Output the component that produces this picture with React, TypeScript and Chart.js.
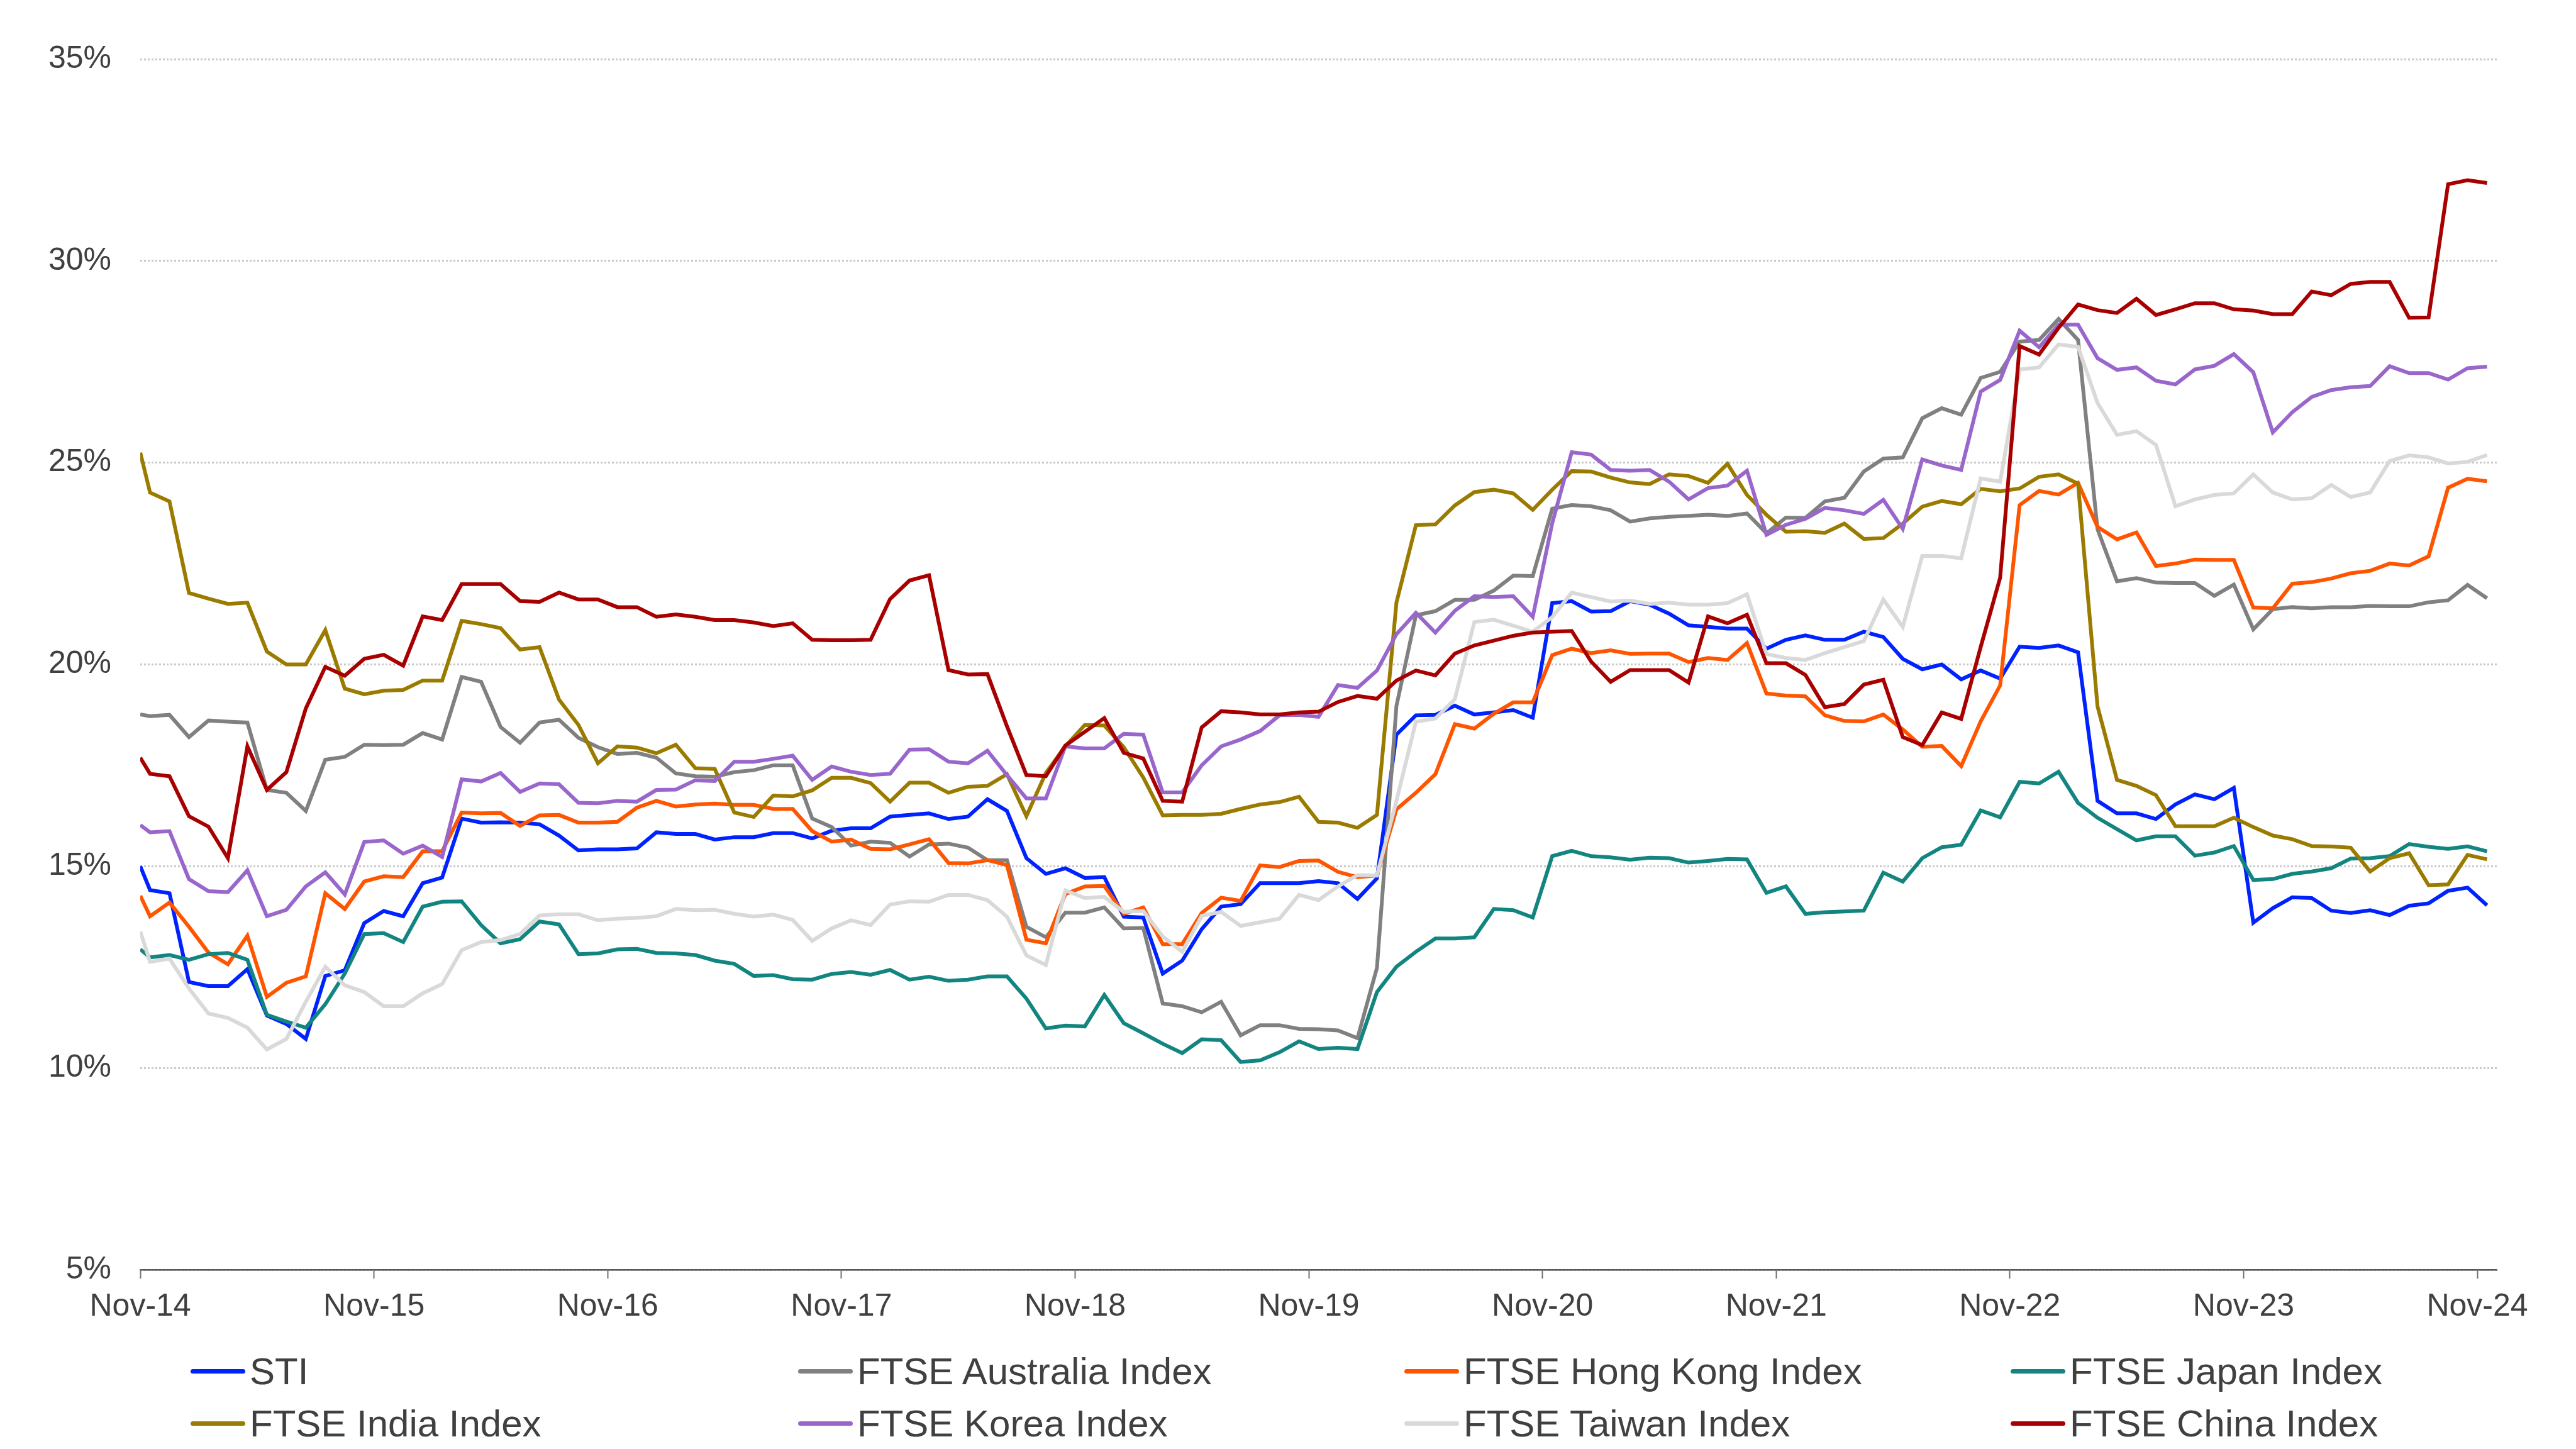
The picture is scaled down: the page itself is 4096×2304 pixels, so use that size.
import { useEffect, useRef } from "react";
import { Chart, registerables } from "chart.js";

Chart.register(...registerables);

const tickMonths = [0, 12, 24, 36, 48, 60, 72, 84, 96, 108, 120];
const tickLabels = [
  "Nov-14", "Nov-15", "Nov-16", "Nov-17", "Nov-18", "Nov-19",
  "Nov-20", "Nov-21", "Nov-22", "Nov-23", "Nov-24",
];

const sti = [
  15.0, 14.41, 14.33, 12.13, 12.03, 12.03, 12.45, 11.3, 11.09, 10.72,
  12.28, 12.42, 13.59, 13.89, 13.76, 14.58, 14.72, 16.18, 16.08, 16.09,
  16.08, 16.04, 15.76, 15.39, 15.42, 15.42, 15.44, 15.84, 15.8, 15.8,
  15.66, 15.72, 15.72, 15.82, 15.82, 15.69, 15.88, 15.94, 15.94, 16.23,
  16.27, 16.31, 16.17, 16.23, 16.66, 16.37, 15.2, 14.81, 14.95, 14.71,
  14.73, 13.75, 13.73, 12.34, 12.66, 13.44, 14.0, 14.06, 14.58, 14.58,
  14.58, 14.63, 14.58, 14.19, 14.7, 18.26, 18.74, 18.75, 18.98, 18.76,
  18.81, 18.87, 18.68, 21.52, 21.57, 21.31, 21.32, 21.57, 21.48, 21.26,
  20.97, 20.93, 20.89, 20.89, 20.39, 20.61, 20.72, 20.61, 20.61, 20.81,
  20.68, 20.14, 19.88, 20.0, 19.63, 19.85, 19.65, 20.44, 20.41, 20.47,
  20.3, 16.62, 16.31, 16.31, 16.17, 16.53, 16.78, 16.66, 16.94, 13.6,
  13.96, 14.23, 14.21, 13.9, 13.84, 13.91, 13.79, 14.02, 14.08, 14.39,
  14.47, 14.03,
];

const australia = [
  18.76, 18.72, 18.75, 18.2, 18.61, 18.58, 18.56, 16.89, 16.82, 16.37,
  17.64, 17.71, 18.01, 18.0, 18.01, 18.3, 18.14, 19.69, 19.57, 18.45,
  18.06, 18.56, 18.63, 18.18, 17.95, 17.78, 17.81, 17.69, 17.3, 17.23,
  17.22, 17.33, 17.38, 17.5, 17.5, 16.18, 15.97, 15.51, 15.61, 15.58,
  15.24, 15.54, 15.56, 15.46, 15.15, 15.15, 13.5, 13.24, 13.85, 13.85,
  13.98, 13.46, 13.47, 11.6, 11.53, 11.38, 11.64, 10.81, 11.06, 11.06,
  10.97, 10.96, 10.93, 10.74, 12.48, 18.97, 21.22, 21.32, 21.6, 21.6,
  21.83, 22.2, 22.19, 23.86, 23.95, 23.92, 23.82, 23.54, 23.62, 23.66,
  23.68, 23.71, 23.68, 23.74, 23.25, 23.64, 23.63, 24.04, 24.13, 24.78,
  25.1, 25.13, 26.1, 26.35, 26.19, 27.1, 27.25, 28.0, 28.04, 28.56,
  28.04, 23.35, 22.06, 22.14, 22.03, 22.02, 22.02, 21.7, 21.98, 20.87,
  21.37, 21.42, 21.39, 21.42, 21.42, 21.45, 21.44, 21.44, 21.54, 21.59,
  21.97, 21.64,
];

const hongKong = [
  14.27, 13.76, 14.1, 13.5, 12.86, 12.57, 13.28, 11.76, 12.11, 12.27,
  14.33, 13.94, 14.62, 14.75, 14.73, 15.37, 15.37, 16.33, 16.31, 16.32,
  16.0, 16.26, 16.27, 16.08, 16.08, 16.1, 16.45, 16.62, 16.48, 16.53,
  16.55, 16.52, 16.52, 16.42, 16.42, 15.87, 15.61, 15.66, 15.43, 15.42,
  15.54, 15.67, 15.08, 15.07, 15.15, 15.03, 13.18, 13.09, 14.31, 14.5,
  14.51, 13.82, 13.98, 13.07, 13.07, 13.84, 14.22, 14.14, 15.02, 14.98,
  15.13, 15.14, 14.86, 14.73, 14.77, 16.41, 16.82, 17.28, 18.52, 18.41,
  18.78, 19.06, 19.06, 20.23, 20.39, 20.28, 20.35, 20.26, 20.27, 20.27,
  20.06, 20.16, 20.11, 20.53, 19.28, 19.23, 19.21, 18.74, 18.6, 18.59,
  18.76, 18.39, 17.96, 17.98, 17.48, 18.59, 19.48, 23.95, 24.3, 24.21,
  24.5, 23.41, 23.1, 23.27, 22.44, 22.5, 22.6, 22.59, 22.59, 21.41,
  21.39, 22.0, 22.04, 22.13, 22.26, 22.32, 22.5, 22.45, 22.68, 24.38,
  24.6, 24.54,
];

const japan = [
  12.94, 12.74, 12.8, 12.68, 12.82, 12.85, 12.68, 11.32, 11.15, 11.0,
  11.58, 12.34, 13.32, 13.34, 13.12, 14.0, 14.12, 14.13, 13.54, 13.09,
  13.19, 13.63, 13.56, 12.82, 12.84, 12.94, 12.95, 12.85, 12.84, 12.8,
  12.66, 12.58, 12.28, 12.3, 12.2, 12.19, 12.33, 12.38, 12.31, 12.43,
  12.19, 12.26, 12.16, 12.19, 12.27, 12.27, 11.72, 10.98, 11.05, 11.03,
  11.81, 11.11, 10.86, 10.6, 10.37, 10.71, 10.69, 10.15, 10.19, 10.39,
  10.66, 10.47, 10.5, 10.47, 11.88, 12.51, 12.88, 13.21, 13.21, 13.24,
  13.94, 13.91, 13.73, 15.25, 15.38, 15.25, 15.22, 15.16, 15.21, 15.2,
  15.09, 15.13, 15.18, 15.17, 14.34, 14.5, 13.82, 13.86, 13.88, 13.9,
  14.84, 14.62, 15.2, 15.47, 15.53, 16.38, 16.21, 17.09, 17.05, 17.34,
  16.57, 16.2, 15.92, 15.64, 15.74, 15.74, 15.26, 15.34, 15.5, 14.66,
  14.68, 14.81, 14.87, 14.95, 15.19, 15.2, 15.25, 15.55, 15.48, 15.43,
  15.49, 15.37,
];

const india = [
  25.25, 24.26, 24.04, 21.77, 21.63, 21.5, 21.53, 20.32, 20.0, 20.0,
  20.85, 19.4, 19.26, 19.35, 19.37, 19.6, 19.6, 21.08, 21.0, 20.9,
  20.37, 20.43, 19.13, 18.5, 17.55, 17.97, 17.94, 17.8, 18.01, 17.43,
  17.41, 16.33, 16.22, 16.75, 16.73, 16.88, 17.19, 17.19, 17.06, 16.6,
  17.07, 17.07, 16.82, 16.97, 16.99, 17.28, 16.24, 17.31, 17.97, 18.5,
  18.49, 17.95, 17.2, 16.26, 16.27, 16.27, 16.3, 16.42, 16.53, 16.59,
  16.72, 16.1, 16.08, 15.95, 16.27, 21.53, 23.45, 23.47, 23.94, 24.27,
  24.33, 24.24, 23.83, 24.33, 24.79, 24.78, 24.63, 24.51, 24.47, 24.71,
  24.67, 24.5, 24.97, 24.2, 23.71, 23.29, 23.3, 23.26, 23.49, 23.11,
  23.13, 23.49, 23.91, 24.05, 23.97, 24.35, 24.29, 24.36, 24.65, 24.71,
  24.48, 18.96, 17.14, 16.99, 16.76, 15.99, 15.99, 15.99, 16.2, 15.97,
  15.76, 15.67, 15.5, 15.49, 15.46, 14.87, 15.2, 15.32, 14.53, 14.55,
  15.28, 15.17,
];

const korea = [
  16.02, 15.84, 15.87, 14.68, 14.38, 14.36, 14.9, 13.76, 13.92, 14.5,
  14.85, 14.3, 15.6, 15.64, 15.31, 15.51, 15.23, 17.15, 17.1, 17.31,
  16.84, 17.05, 17.03, 16.57, 16.56, 16.62, 16.6, 16.89, 16.9, 17.13,
  17.11, 17.59, 17.59, 17.66, 17.74, 17.14, 17.47, 17.34, 17.26, 17.29,
  17.89, 17.9, 17.59, 17.55, 17.86, 17.26, 16.68, 16.68, 17.97, 17.92,
  17.92, 18.28, 18.26, 16.83, 16.83, 17.5, 17.97, 18.14, 18.35, 18.74,
  18.75, 18.7, 19.49, 19.42, 19.85, 20.75, 21.28, 20.79, 21.33, 21.69,
  21.67, 21.69, 21.18, 23.5, 25.26, 25.2, 24.82, 24.8, 24.82, 24.53,
  24.09, 24.37, 24.43, 24.8, 23.21, 23.46, 23.61, 23.88, 23.82, 23.73,
  24.08, 23.36, 25.08, 24.93, 24.82, 26.76, 27.05, 28.27, 27.86, 28.42,
  28.42, 27.59, 27.3, 27.36, 27.03, 26.94, 27.31, 27.4, 27.69, 27.24,
  25.75, 26.25, 26.63, 26.8, 26.87, 26.9, 27.39, 27.22, 27.22, 27.06,
  27.34, 27.38,
];

const taiwan = [
  13.38, 12.63, 12.71, 11.97, 11.35, 11.24, 11.0, 10.46, 10.72, 11.64,
  12.51, 12.05, 11.88, 11.53, 11.53, 11.85, 12.08, 12.92, 13.12, 13.17,
  13.32, 13.78, 13.81, 13.81, 13.66, 13.7, 13.72, 13.76, 13.94, 13.91,
  13.92, 13.82, 13.75, 13.8, 13.67, 13.15, 13.46, 13.66, 13.54, 14.05,
  14.13, 14.12, 14.29, 14.29, 14.16, 13.75, 12.79, 12.55, 14.4, 14.21,
  14.24, 13.87, 13.89, 13.26, 12.88, 13.77, 13.87, 13.52, 13.61, 13.7,
  14.29, 14.16, 14.5, 14.78, 14.77, 16.62, 18.58, 18.66, 19.14, 21.05,
  21.11, 20.96, 20.81, 21.17, 21.78, 21.67, 21.56, 21.58, 21.5, 21.53,
  21.48, 21.48, 21.52, 21.74, 20.26, 20.16, 20.11, 20.28, 20.43, 20.58,
  21.61, 20.93, 22.69, 22.69, 22.63, 24.61, 24.53, 27.31, 27.36, 27.93,
  27.87, 26.48, 25.69, 25.78, 25.44, 23.92, 24.09, 24.2, 24.24, 24.71,
  24.26, 24.09, 24.12, 24.45, 24.15, 24.26, 25.04, 25.18, 25.13, 24.98,
  25.02, 25.19,
];

const china = [
  17.69, 17.29, 17.23, 16.24, 15.98, 15.2, 17.97, 16.89, 17.33, 18.91,
  19.94, 19.72, 20.14, 20.24, 19.97, 21.19, 21.1, 21.99, 21.99, 21.99,
  21.57, 21.55, 21.78, 21.61, 21.61, 21.42, 21.42, 21.18, 21.24, 21.18,
  21.1, 21.1, 21.04, 20.95, 21.02, 20.61, 20.6, 20.6, 20.61, 21.62,
  22.08, 22.21, 19.86, 19.75, 19.76, 18.47, 17.26, 17.23, 17.99, 18.33,
  18.67, 17.81, 17.67, 16.62, 16.6, 18.44, 18.84, 18.81, 18.76, 18.76,
  18.81, 18.83, 19.07, 19.22, 19.15, 19.6, 19.85, 19.73, 20.27, 20.47,
  20.59, 20.71, 20.79, 20.81, 20.83, 20.07, 19.57, 19.86, 19.86, 19.86,
  19.55, 21.19, 21.02, 21.23, 20.03, 20.03, 19.74, 18.94, 19.02, 19.5,
  19.62, 18.2, 18.0, 18.81, 18.65, 20.43, 22.15, 27.89, 27.68, 28.34,
  28.92, 28.78, 28.71, 29.06, 28.66, 28.8, 28.95, 28.95, 28.8, 28.77,
  28.68, 28.68, 29.24, 29.15, 29.43, 29.48, 29.48, 28.59, 28.6, 31.9,
  32.0, 31.93,
];

const seriesNames = [
  "STI",
  "FTSE Australia Index",
  "FTSE Hong Kong Index",
  "FTSE Japan Index",
  "FTSE India Index",
  "FTSE Korea Index",
  "FTSE Taiwan Index",
  "FTSE China Index",
];
const seriesValues = [sti, australia, hongKong, japan, india, korea, taiwan, china];
const seriesColors = [
  "#0022ff",
  "#808080",
  "#ff5500",
  "#138580",
  "#9a7b00",
  "#9966cc",
  "#d9d9d9",
  "#a80000",
];

// month offsets from Nov-14: first reading sits on the tick, the rest mid-month
const monthPos = sti.map((_, i) => (i === 0 ? 0 : i - 0.5));

const FONT = "'Liberation Sans', Arial, sans-serif";
const TEXT = "#404040";

// legend sits in 4 fixed columns under the axis
const legendCols = [303, 1269, 2233, 3197];
const legendRows = [2180, 2263];

export default function App() {
  const chartRef = useRef<HTMLCanvasElement>(null);
  const chartInstance = useRef<Chart | null>(null);

  useEffect(() => {
    document.body.style.margin = "0";
    if (!chartRef.current) return;
    if (chartInstance.current) chartInstance.current.destroy();
    const ctx = chartRef.current.getContext("2d");
    if (!ctx) return;

    chartInstance.current = new Chart(ctx, {
      type: "line",
      data: {
        datasets: seriesNames.map((name, k) => ({
          label: name,
          data: seriesValues[k].map((v, i) => ({ x: monthPos[i], y: v })),
          borderColor: seriesColors[k],
          backgroundColor: seriesColors[k],
          borderWidth: 6,
          pointRadius: 0,
          tension: 0,
          fill: false,
          order: -k,
        })),
      },
      options: {
        animation: false,
        responsive: true,
        maintainAspectRatio: false,
        layout: { padding: { left: 31, right: 126, top: 94, bottom: 181 } },
        plugins: {
          legend: { display: false },
          tooltip: { enabled: false },
        },
        scales: {
          x: {
            type: "linear",
            min: 0,
            max: 121,
            afterBuildTicks: (axis) => {
              axis.ticks = tickMonths.map((v) => ({ value: v }));
            },
            grid: {
              drawOnChartArea: false,
              drawTicks: true,
              tickLength: 14,
              tickColor: "#707070",
              tickWidth: 2,
            },
            border: { display: true, color: "#595959", width: 2.5 },
            ticks: {
              padding: 15,
              maxRotation: 0,
              autoSkip: false,
              color: TEXT,
              font: { family: FONT, size: 50 },
              callback: (value) => tickLabels[tickMonths.indexOf(Number(value))] ?? "",
            },
          },
          y: {
            min: 5,
            max: 35,
            grid: {
              color: "#c8c8c8",
              lineWidth: 3,
              drawTicks: false,
            },
            border: { display: false, dash: [3, 3] },
            ticks: {
              stepSize: 5,
              padding: 46,
              color: TEXT,
              font: { family: FONT, size: 50 },
              callback: (value) => `${value}%`,
            },
          },
        },
      },
    });

    return () => {
      if (chartInstance.current) {
        chartInstance.current.destroy();
        chartInstance.current = null;
      }
    };
  }, []);

  return (
    <div style={{ position: "relative", width: 4096, height: 2304 }}>
      <canvas ref={chartRef} />
      {seriesNames.map((name, k) => (
        <div
          key={name}
          style={{
            position: "absolute",
            left: legendCols[k % 4],
            top: legendRows[Math.floor(k / 4)] - 35,
            height: 70,
            display: "flex",
            alignItems: "center",
            fontFamily: FONT,
            fontSize: 60,
            color: TEXT,
            whiteSpace: "nowrap",
          }}
        >
          <span
            style={{
              display: "inline-block",
              width: 87,
              height: 7,
              borderRadius: 4,
              marginRight: 7,
              background: seriesColors[k],
            }}
          />
          <span>{name}</span>
        </div>
      ))}
    </div>
  );
}
